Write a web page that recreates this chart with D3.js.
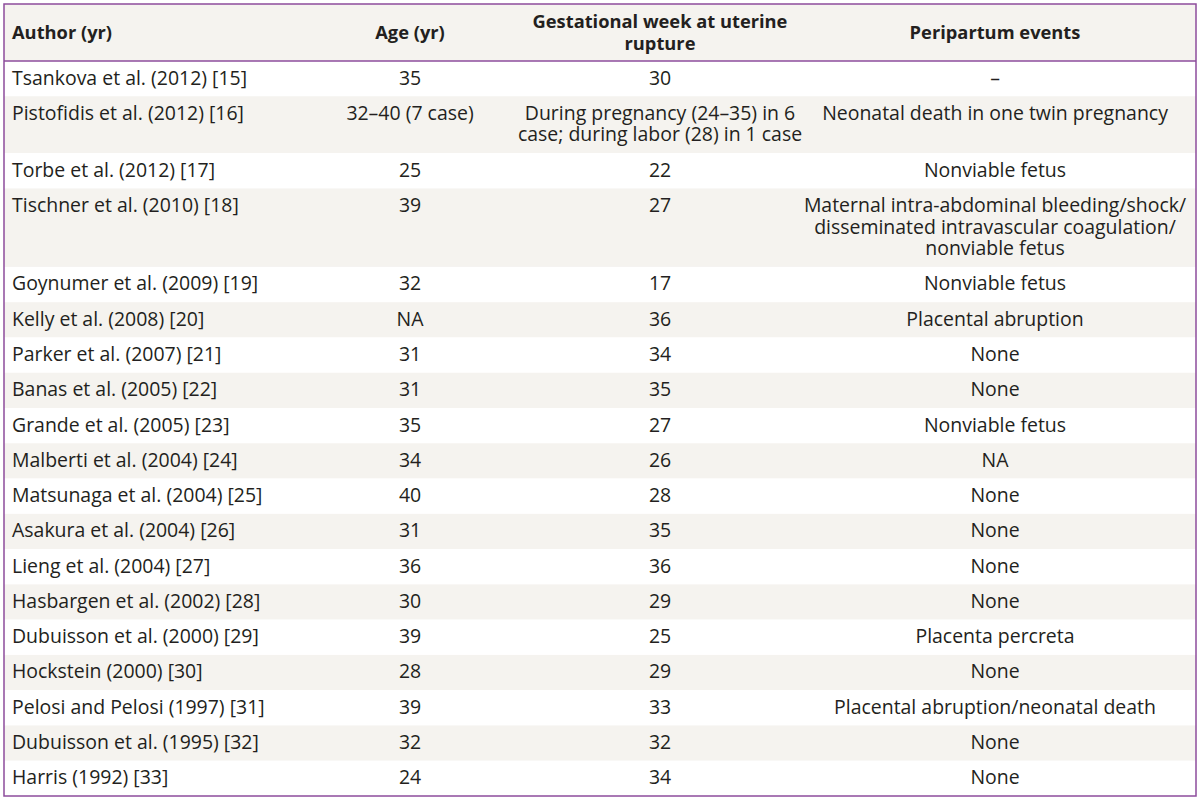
<!DOCTYPE html>
<html><head><meta charset="utf-8">
<script src="https://cdn.jsdelivr.net/npm/d3@7"></script>
<style>
html,body{margin:0;padding:0;background:#fff;}
svg{display:block;}
text{font-family:"Open Sans","Noto Sans",sans-serif;fill:#231f20;}
</style></head>
<body>
<svg id="chart" width="1200" height="800"></svg>
<script>
const headers = ["Author (yr)", "Age (yr)", "Gestational week at uterine\nrupture", "Peripartum events"];
const authors = ["Tsankova et al. (2012) [15]","Pistofidis et al. (2012) [16]","Torbe et al. (2012) [17]","Tischner et al. (2010) [18]","Goynumer et al. (2009) [19]","Kelly et al. (2008) [20]","Parker et al. (2007) [21]","Banas et al. (2005) [22]","Grande et al. (2005) [23]","Malberti et al. (2004) [24]","Matsunaga et al. (2004) [25]","Asakura et al. (2004) [26]","Lieng et al. (2004) [27]","Hasbargen et al. (2002) [28]","Dubuisson et al. (2000) [29]","Hockstein (2000) [30]","Pelosi and Pelosi (1997) [31]","Dubuisson et al. (1995) [32]","Harris (1992) [33]"];
const ages = ["35","32–40 (7 case)","25","39","32","NA","31","31","35","34","40","31","36","30","39","28","39","32","24"];
const weeks = ["30","During pregnancy (24–35) in 6\ncase; during labor (28) in 1 case","22","27","17","36","34","35","27","26","28","35","36","29","25","29","33","32","34"];
const events = ["–","Neonatal death in one twin pregnancy","Nonviable fetus","Maternal intra-abdominal bleeding/shock/\ndisseminated intravascular coagulation/\nnonviable fetus","Nonviable fetus","Placental abruption","None","None","Nonviable fetus","NA","None","None","None","None","Placenta percreta","None","Placental abruption/neonatal death","None","None"];

(function(){
const svg = d3.select("#chart");
const L = 4, R = 1196, T = 4, B = 796, headH = 57;
const purple = "#8d4c9c", stripe = "#f5f3ef";
const colX = [12, 410, 660, 995];
const anchors = ["start","middle","middle","middle"];
const lineH = 21.6, pad = 35.25 - 21.6;

const probe = svg.append("text").attr("font-size", 18).text("Neonatal death in one twin pregnancy");
const fs = 18 * 346 / probe.node().getComputedTextLength();
probe.remove();
const probeB = svg.append("text").attr("font-size", 18).attr("font-weight","bold").text("Gestational week at uterine");
const fsB = 18 * 255 / probeB.node().getComputedTextLength();
probeB.remove();

const rows = authors.map((a,i)=>({cells:[a, ages[i], weeks[i], events[i]]}));
rows.forEach(r=>{ r.n = d3.max(r.cells, c=>c.split("\n").length); r.h = pad + r.n*lineH; });
let acc = T + headH;
rows.forEach(r=>{ r.y = acc; acc += r.h; });
const scaleY = d3.scaleLinear().domain([T+headH, acc]).range([T+headH, B]);

svg.append("rect").attr("x", L).attr("y", T).attr("width", R-L).attr("height", headH).attr("fill", stripe);

const g = svg.append("g");
const rg = g.selectAll("g.row").data(rows).join("g").attr("class","row");
rg.append("rect")
  .attr("x", L).attr("width", R-L)
  .attr("y", d=>scaleY(d.y)).attr("height", d=>scaleY(d.y+d.h)-scaleY(d.y))
  .attr("fill", (d,i)=> i%2 ? stripe : "#fff");

rg.each(function(d){
  const sel = d3.select(this);
  d.cells.forEach((c,j)=>{
    const lines = c.split("\n");
    const t = sel.append("text").attr("font-size", fs).attr("text-anchor", anchors[j]);
    lines.forEach((ln,k)=>{
      t.append("tspan").attr("x", colX[j]).attr("y", scaleY(d.y) + 23.5 + k*lineH).text(ln);
    });
  });
});

headers.forEach((h,j)=>{
  const lines = h.split("\n");
  const t = svg.append("text").attr("font-size", fsB).attr("font-weight","bold").attr("text-anchor", anchors[j]);
  const cy = T + headH/2 + 6.5 - (lines.length-1)*lineH/2;
  lines.forEach((ln,k)=> t.append("tspan").attr("x", colX[j]).attr("y", cy + k*lineH).text(ln));
});

svg.append("line").attr("x1", L).attr("x2", R).attr("y1", T+headH).attr("y2", T+headH)
  .attr("stroke", purple).attr("stroke-width", 1.5);
svg.append("rect").attr("x", L).attr("y", T).attr("width", R-L).attr("height", B-T)
  .attr("fill","none").attr("stroke", purple).attr("stroke-width", 1.5);
})();
</script>
</body></html>
